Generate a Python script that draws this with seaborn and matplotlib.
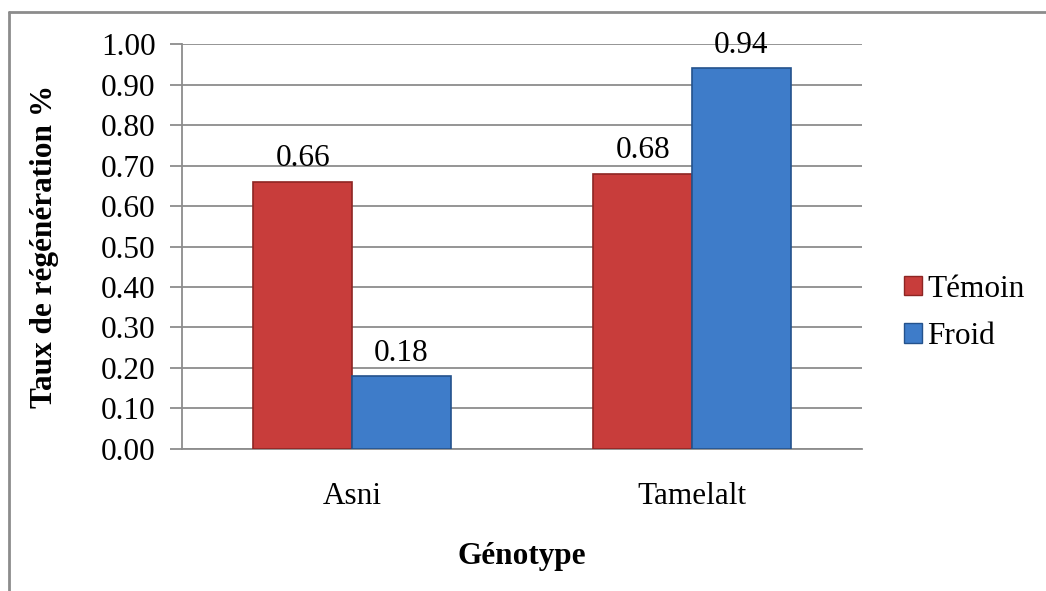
import matplotlib
matplotlib.use('Agg')
import matplotlib.pyplot as plt
import pandas as pd
import seaborn as sns
from matplotlib.lines import Line2D

genotypes = ['Asni', 'Tamelalt']
temoin = [0.66, 0.68]
froid = [0.18, 0.94]
series = ['Témoin', 'Froid']
colors = {'Témoin': '#C83D3B', 'Froid': '#3E7CC9'}
edges = {'Témoin': '#8E2523', 'Froid': '#24528C'}

df = pd.DataFrame({
    'Génotype': genotypes * 2,
    'Taux': temoin + froid,
    'Traitement': [series[0]] * len(genotypes) + [series[1]] * len(genotypes),
})

sns.set_style('white')
plt.rcParams['font.family'] = ['Liberation Serif', 'DejaVu Serif']
plt.rcParams['text.color'] = 'black'
plt.rcParams['xtick.color'] = 'black'
plt.rcParams['ytick.color'] = 'black'
plt.rcParams['axes.labelcolor'] = 'black'

FS = 22.5

fig = plt.figure(figsize=(10.46, 5.91), dpi=100)
ax = fig.add_axes([0.174, 0.2403, 0.650, 0.6852])

g = sns.barplot(data=df, x='Génotype', y='Taux', hue='Traitement',
                hue_order=series, palette=colors, width=0.58,
                saturation=1, ax=ax, zorder=3, legend=False)

for cont, name in zip(ax.containers, series):
    for p in cont:
        p.set_edgecolor(edges[name])
        p.set_linewidth(1.2)
    ax.bar_label(cont, fmt='%.2f', padding=6, fontsize=FS)

ax.set_ylim(0, 1.0)
ax.set_yticks([i / 10 for i in range(11)])
ax.set_yticklabels([f'{i / 10:.2f}' for i in range(11)], fontsize=FS)
ax.tick_params(axis='x', labelsize=FS, pad=24, length=0)
ax.tick_params(axis='y', length=9, width=1.3, color='#8c8c8c', pad=10, left=True,
               labelcolor='black')
ax.grid(axis='y', color='#8c8c8c', linewidth=1.3, zorder=0)
ax.set_axisbelow(True)

for side in ['top', 'right']:
    ax.spines[side].set_visible(False)
for side in ['left', 'bottom']:
    ax.spines[side].set_color('#8c8c8c')
    ax.spines[side].set_linewidth(1.3)

g.set_xlabel('Génotype', fontsize=FS, fontweight='bold', labelpad=22)
g.set_ylabel('Taux de régénération %', fontsize=FS, fontweight='bold', labelpad=30)

handles = [plt.Rectangle((0, 0), 1, 1, facecolor=colors[s], edgecolor=edges[s]) for s in series]
ax.legend(handles, series, loc='center left', bbox_to_anchor=(1.02, 0.336),
          frameon=False, fontsize=FS, handlelength=0.6, handleheight=0.6,
          handletextpad=0.15, labelspacing=0.6)

# outer chart border (top and left only visible)
fig.add_artist(Line2D([9 / 1046, 9 / 1046], [0, 1 - 12 / 591], transform=fig.transFigure,
                      color='#8c8c8c', linewidth=2))
fig.add_artist(Line2D([9 / 1046, 1], [1 - 12 / 591, 1 - 12 / 591], transform=fig.transFigure,
                      color='#8c8c8c', linewidth=2))

fig.savefig('out.png', dpi=100)
